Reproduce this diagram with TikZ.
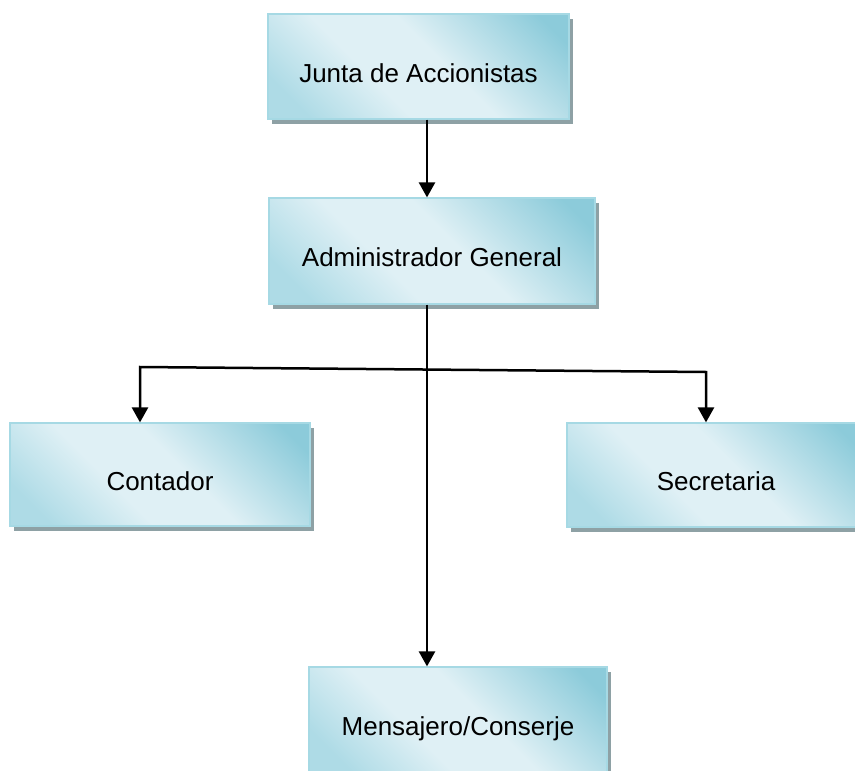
\documentclass[tikz,border=0pt]{standalone}
\usepackage{fontspec}
\setmainfont{Liberation Sans}
\usepackage{xcolor}
\usetikzlibrary{arrows.meta,calc,positioning,shadows}
\definecolor{cardDark}{HTML}{8CCBDA}
\definecolor{cardMid}{HTML}{AEDBE6}
\definecolor{cardLight}{HTML}{DFF0F5}
\definecolor{cardEdge}{HTML}{A6D9E4}
\definecolor{cardShadow}{HTML}{8EA1A5}
\pgfdeclarehorizontalshading{cardshade}{100bp}{color(0bp)=(cardMid); color(22bp)=(cardMid);
    color(40bp)=(cardLight); color(55bp)=(cardLight); color(80bp)=(cardDark); color(100bp)=(cardDark)}

\begin{document}
\begin{tikzpicture}[x=1pt, y=1pt,
    card/.style={draw=cardEdge, line width=1.2pt,
        shading=cardshade, shading angle=45,
        drop shadow={shadow xshift=4pt, shadow yshift=-5pt, fill=cardShadow, opacity=1},
        font=\fontsize{26}{31}\selectfont, inner sep=0pt, text height=31pt, text depth=0pt},
    link/.style={line width=2.5pt, -{Triangle[width=16pt, length=15pt]}}]
    \useasboundingbox (0,0) rectangle (855,-771);

    % TOP: board and manager
    \node[card, minimum width=301pt, minimum height=105pt] (junta) at (418.5,-66.5) {Junta de Accionistas};
    \node[card, minimum width=326pt, minimum height=106pt] (admin) at (432,-251) {Administrador General};

    % MIDDLE: staff on both sides
    \node[card, minimum width=300pt, minimum height=103pt] (contador) at (160,-474.5) {Contador};
    \node[card, minimum width=298pt, minimum height=104pt] (secretaria) at (716,-475) {Secretaria};

    % BOTTOM: messenger
    \node[card, minimum width=298pt, minimum height=105pt] (mensajero) at (458,-719.5) {Mensajero/Conserje};

    % Connectors
    \coordinate (spine) at (427,0);
    \coordinate (branchL) at (140,-367);
    \coordinate (branchR) at (706,-372);
    \draw[link] (junta.south -| spine) -- (admin.north -| spine);
    \draw[link] (admin.south -| spine) -- (mensajero.north -| spine);
    \draw[link, {Triangle[width=16pt, length=15pt]}-{Triangle[width=16pt, length=15pt]}]
        (contador.north -| branchL) -- (branchL) -- (branchR) -- (secretaria.north -| branchR);
\end{tikzpicture}
\end{document}
